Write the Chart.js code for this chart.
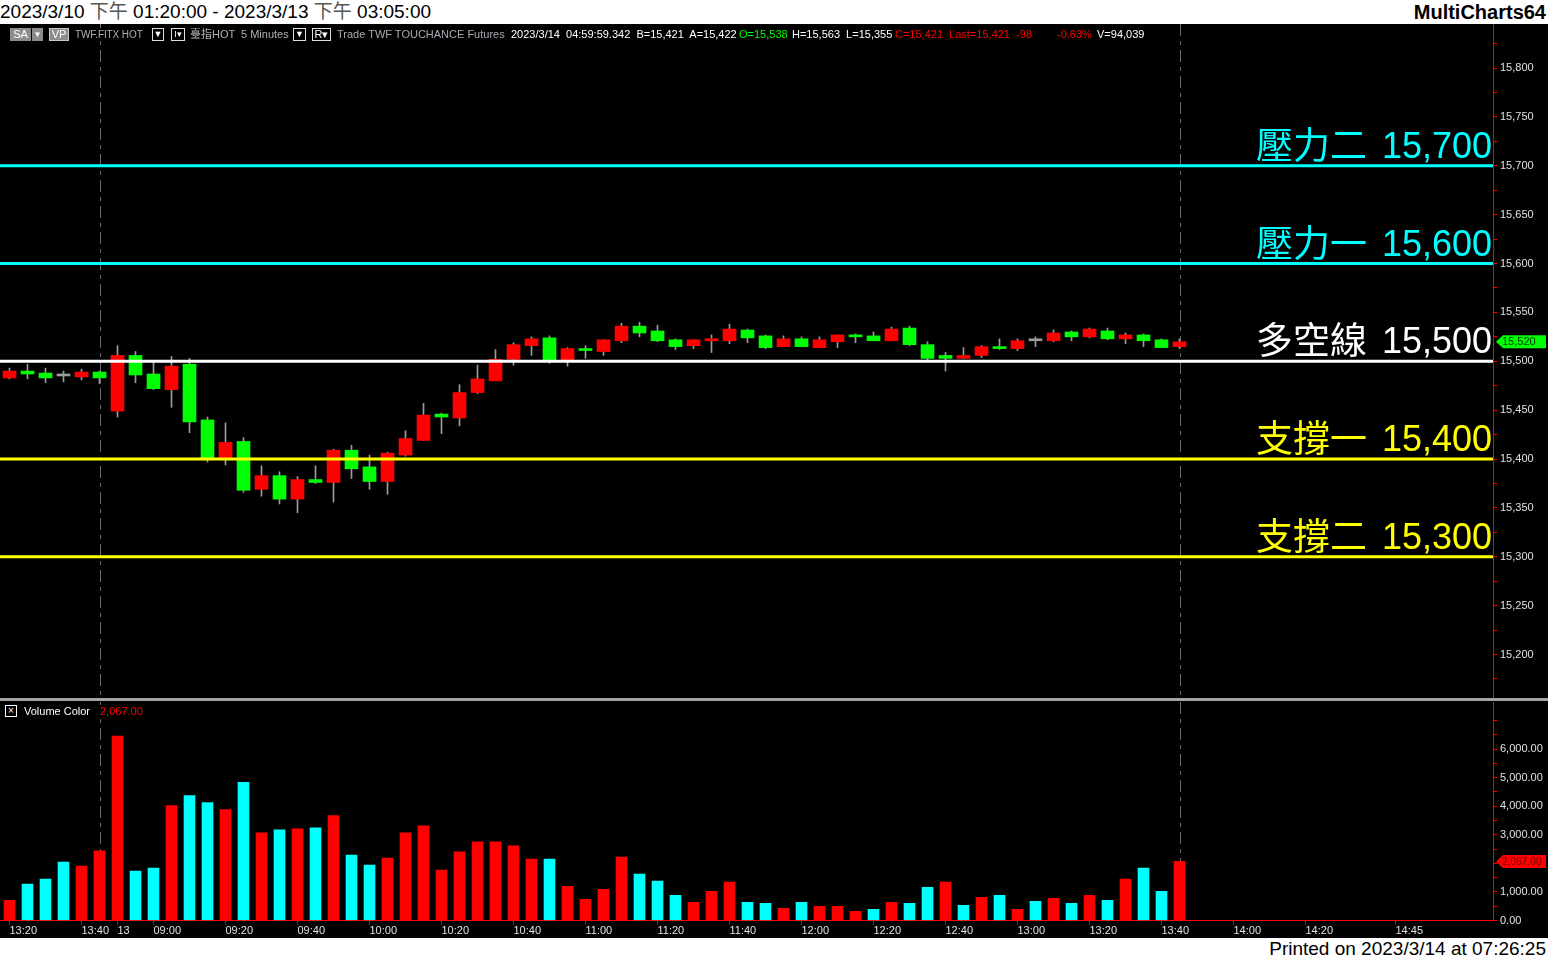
<!DOCTYPE html>
<html>
<head>
<meta charset="utf-8">
<title>TWF.FITX HOT 5 Minutes</title>
<script src="https://cdn.jsdelivr.net/npm/chart.js@4.4.1/dist/chart.umd.min.js"></script>
<style>
  html, body { margin: 0; padding: 0; background: #fff; }
  #wrap { position: relative; width: 1548px; height: 960px; overflow: hidden; background: #fff;
          font-family: "Liberation Sans", Arial, "Noto Sans CJK TC", sans-serif; }
  #title { position: absolute; left: 0; top: 0; height: 24px; line-height: 24px; font-size: 19px; color: #000; white-space: nowrap; }
  #title .cjk { color: #555; }
  #brand { position: absolute; right: 2px; top: 0; height: 24px; line-height: 24px; font-size: 20px; font-weight: bold; color: #000; }
  #black { position: absolute; left: 0; top: 24px; width: 1548px; height: 914px; background: #000; }
  #priceBox { position: absolute; left: 0; top: 24px; width: 1548px; height: 674px; }
  #sep { position: absolute; left: 0; top: 698px; width: 1548px; height: 3px; background: #a4a4a4; }
  #volBox { position: absolute; left: 0; top: 701px; width: 1548px; height: 237px; }
  #footer { position: absolute; right: 2px; top: 938px; height: 22px; line-height: 22px; font-size: 19px; color: #000; white-space: nowrap; }
  .t { position: absolute; top: 28px; height: 13px; line-height: 13px; font-size: 11px; white-space: nowrap; background: #000; }
  .box { box-sizing: border-box; text-align: center; }
  .gray { background: #8c8c8c; color: #fff; }
  .outl { border: 1px solid #e0e0e0; color: #fff; line-height: 11px; font-size: 9px; }
</style>
</head>
<body>
<div id="wrap">
  <div id="title">2023/3/10 <span class="cjk">下午</span> 01:20:00 - 2023/3/13 <span class="cjk">下午</span> 03:05:00</div>
  <div id="brand">MultiCharts64</div>
  <div id="black"></div>
  <div id="priceBox"><canvas id="price" width="1548" height="674"></canvas></div>
  <div id="sep"></div>
  <div id="volBox"><canvas id="vol" width="1548" height="237"></canvas></div>

  <span class="t box gray" style="left:10px;width:21px">SA</span>
  <span class="t box gray" style="left:32px;width:11px;font-size:8px">▼</span>
  <span class="t box gray" style="left:49px;width:20px;border:1px solid #c8c8c8;line-height:11px">VP</span>
  <span class="t" style="left:75px;color:#b0b0b0;font-size:10px;letter-spacing:-0.1px">TWF.FITX HOT</span>
  <span class="t box outl" style="left:152px;width:12px">▼</span>
  <span class="t box outl" style="left:171px;width:14px">I▾</span>
  <span class="t" style="left:190px;color:#b0b0b0">臺指HOT</span>
  <span class="t" style="left:241px;color:#b0b0b0">5 Minutes</span>
  <span class="t box outl" style="left:293px;width:13px">▼</span>
  <span class="t box outl" style="left:312px;width:19px;font-size:11px">R▾</span>
  <span class="t" style="left:337px;color:#a8a8b0">Trade TWF TOUCHANCE Futures</span>
  <span class="t" style="left:511px;color:#fff">2023/3/14&nbsp; 04:59:59.342&nbsp; B=15,421&nbsp; A=15,422</span>
  <span class="t" style="left:739px;color:#00ff00">O=15,538</span>
  <span class="t" style="left:792px;color:#fff">H=15,563&nbsp; L=15,355</span>
  <span class="t" style="left:895px;color:#ff0000">C=15,421&nbsp; Last=15,421&nbsp; -98</span>
  <span class="t" style="left:1057px;color:#ff0000">-0.63%</span>
  <span class="t" style="left:1097px;color:#fff">V=94,039</span>

  <span class="t box" style="top:705px;left:5px;width:12px;height:12px;border:1px solid #fff;color:#fff;line-height:10px;font-size:10px">×</span>
  <span class="t" style="top:705px;left:24px;color:#fff">Volume Color</span>
  <span class="t" id="volHead" style="top:705px;left:100px;color:#ff0000"></span>

  <div id="footer">Printed on 2023/3/14 at 07:26:25</div>
</div>
<script>
// 5-minute bars, 2023/3/10 13:20 .. 2023/3/13 13:45 (index 0..65)
const opens  = [15483,15490,15488,15485,15484,15489,15449,15506,15487,15471,15497,15440,15401,15418,15369,15383,15359,15379,15376,15409,15392,15377,
                15404,15419,15446,15442,15468,15480,15502,15516,15524,15501,15513,15510,15521,15536,15531,15522,15516,15521,15521,15532,15526,15515,
                15523,15514,15520,15527,15526,15521,15534,15517,15506,15503,15506,15515,15513,15521,15521,15530,15525,15531,15523,15527,15522,15515];
const highs  = [15493,15497,15493,15490,15492,15490,15516,15510,15499,15505,15503,15443,15437,15422,15393,15387,15382,15393,15410,15414,15404,15407,
                15429,15457,15447,15476,15496,15512,15519,15525,15526,15514,15516,15522,15539,15540,15537,15523,15522,15527,15538,15533,15527,15526,
                15525,15525,15527,15528,15530,15535,15536,15520,15509,15514,15516,15523,15523,15525,15532,15531,15534,15534,15529,15528,15523,15523];
const lows   = [15482,15482,15478,15479,15481,15477,15443,15478,15471,15453,15427,15397,15394,15366,15362,15354,15345,15375,15356,15380,15369,15364,
                15403,15419,15426,15434,15467,15480,15496,15506,15498,15495,15503,15506,15519,15525,15520,15512,15513,15509,15518,15519,15513,15515,
                15515,15514,15514,15519,15521,15521,15516,15501,15490,15503,15504,15512,15511,15515,15520,15521,15524,15522,15518,15515,15514,15513];
const closes = [15490,15487,15483,15485,15489,15483,15506,15486,15472,15495,15438,15401,15417,15368,15383,15359,15379,15376,15409,15390,15377,15406,
                15421,15445,15443,15468,15482,15502,15517,15523,15501,15513,15511,15522,15536,15529,15521,15515,15522,15522,15533,15524,15514,15523,
                15515,15522,15527,15525,15521,15533,15517,15503,15503,15506,15515,15513,15521,15521,15529,15525,15533,15523,15527,15521,15514,15520];
const volumes = [705,1270,1446,2046,1905,2434,6455,1728,1834,4021,4374,4127,3880,4832,3069,3175,3210,3245,3668,2293,1940,2187,
                 3069,3316,1764,2399,2751,2751,2610,2152,2152,1199,740,1093,2222,1623,1376,882,635,1023,1340,635,600,423,
                 635,494,494,317,388,635,600,1164,1340,529,811,882,388,670,776,600,882,705,1446,1834,1023,2067];
// 1 = red (up) volume bar, 0 = cyan (down)
const volUp = [1,0,0,0,1,1,1,0,0,1,0,0,1,0,1,0,1,0,1,0,0,1,
               1,1,1,1,1,1,1,1,0,1,1,1,1,0,0,0,1,1,1,0,0,1,
               0,1,1,1,0,1,0,0,1,0,1,0,1,0,1,0,1,0,1,0,0,1];

const xTickIdx    = [0, 4, 6, 8, 12, 16, 20, 24, 28, 32, 36, 40, 44, 48, 52, 56, 60, 64, 68, 72, 77];
const xTickLabels = ['13:20','13:40','13','09:00','09:20','09:40','10:00','10:20','10:40','11:00','11:20','11:40',
                     '12:00','12:20','12:40','13:00','13:20','13:40','14:00','14:20','14:45'];
const sessionEnds = [5, 65];

const levels      = [15700, 15600, 15500, 15400, 15300];
const levelNames  = ['壓力二', '壓力一', '多空線', '支撐一', '支撐二'];
const levelColors = ['#00ffff', '#00ffff', '#ffffff', '#ffff00', '#ffff00'];

const priceTicks = [15200, 15250, 15300, 15350, 15400, 15450, 15500, 15550, 15600, 15650, 15700, 15750, 15800];
const volTicks   = [0, 1000, 2000, 3000, 4000, 5000, 6000];

const RED = '#ff0000', GREEN = '#00ff00', CYAN = '#00ffff', WICK = '#9c9c9c';
const X_MIN = -9.5 / 18, X_MAX = 1483.5 / 18;
const AXIS_W = 55;
const fmt = v => Math.round(v).toLocaleString('en-US');
const fmt2 = v => v.toLocaleString('en-US', { minimumFractionDigits: 2, maximumFractionDigits: 2 });
const idx = opens.map((_, i) => i);
const last = idx.length - 1;

document.getElementById('volHead').textContent = fmt2(volumes[last]);

// half-step minor ticks between the labelled ones
function withMinor(list, step) {
  const out = [];
  for (let v = list[0] - step; v <= list[list.length - 1] + step * 2; v += step) out.push({ value: v });
  return out;
}

const sessionLines = {
  id: 'sessionLines',
  beforeDatasetsDraw(chart) {
    const { ctx, chartArea, scales } = chart;
    ctx.save();
    ctx.strokeStyle = '#6a6a6a';
    ctx.lineWidth = 1;
    ctx.setLineDash([12, 5, 4, 5]);
    sessionEnds.forEach(i => {
      const x = Math.round(scales.x.getPixelForValue(i)) + 0.5;
      ctx.beginPath();
      ctx.moveTo(x, chartArea.top);
      ctx.lineTo(x, chartArea.bottom);
      ctx.stroke();
    });
    ctx.restore();
  }
};

const levelLabels = {
  id: 'levelLabels',
  afterDatasetsDraw(chart) {
    const { ctx, chartArea, scales } = chart;
    ctx.save();
    ctx.textAlign = 'right';
    ctx.textBaseline = 'alphabetic';
    levels.forEach((v, k) => {
      const y = scales.y.getPixelForValue(v) - 8;
      const num = fmt(v);
      ctx.fillStyle = levelColors[k];
      ctx.font = '36px "Liberation Sans", Arial, sans-serif';
      const right = chartArea.right - 1;
      ctx.fillText(num, right, y);
      const w = ctx.measureText(num).width;
      ctx.font = '37px "Noto Sans CJK TC", sans-serif';
      ctx.fillText(levelNames[k], right - w - 15, y + 1);
    });
    ctx.restore();
  }
};

function axisMarker(chart, value, text, bg, fg, size) {
  const { ctx, chartArea, scales } = chart;
  const y = scales.y.getPixelForValue(value);
  const x0 = chartArea.right + 3, x1 = chart.width - 2, h = 6.5;
  ctx.save();
  ctx.fillStyle = bg;
  ctx.beginPath();
  ctx.moveTo(x0, y);
  ctx.lineTo(x0 + 7, y - h);
  ctx.lineTo(x1, y - h);
  ctx.lineTo(x1, y + h);
  ctx.lineTo(x0 + 7, y + h);
  ctx.closePath();
  ctx.fill();
  ctx.fillStyle = fg;
  ctx.font = size + 'px "Liberation Sans", Arial, sans-serif';
  ctx.textAlign = 'left';
  ctx.textBaseline = 'middle';
  ctx.fillText(text, x0 + 6, y + 0.5);
  ctx.restore();
}

const priceMarker = {
  id: 'priceMarker',
  afterDraw(chart) { axisMarker(chart, closes[last], fmt(closes[last]), GREEN, '#003300', 11); }
};
const volMarker = {
  id: 'volMarker',
  afterDraw(chart) { axisMarker(chart, volumes[last], fmt2(volumes[last]), RED, '#6a0000', 10.2); }
};

const tickFont = { family: '"Liberation Sans", Arial, sans-serif', size: 11 };

const xHidden = { type: 'linear', min: X_MIN, max: X_MAX, offset: false, display: false, grid: { offset: false } };

new Chart(document.getElementById('price'), {
  type: 'bar',
  data: {
    datasets: [
      ...levels.map((v, k) => ({
        type: 'line',
        data: [{ x: X_MIN, y: v }, { x: X_MAX, y: v }],
        borderColor: levelColors[k],
        borderWidth: 3,
        pointRadius: 0,
        order: 0
      })),
      {
        type: 'bar',
        data: idx.map(i => ({ x: i, y: [opens[i], closes[i]] })),
        backgroundColor: c => closes[c.dataIndex] > opens[c.dataIndex] ? RED
                              : closes[c.dataIndex] < opens[c.dataIndex] ? GREEN : WICK,
        barThickness: 13,
        minBarLength: 2,
        grouped: false,
        order: 1
      },
      {
        type: 'bar',
        data: idx.map(i => ({ x: i, y: [lows[i], highs[i]] })),
        backgroundColor: WICK,
        barThickness: 1,
        grouped: false,
        order: 2
      }
    ]
  },
  options: {
    responsive: false,
    animation: false,
    events: [],
    layout: { padding: 0 },
    plugins: { legend: { display: false }, tooltip: { enabled: false } },
    scales: {
      x: xHidden,
      y: {
        position: 'right',
        min: 15155.5,
        max: 15845.1,
        border: { color: RED, width: 1 },
        grid: { drawOnChartArea: false, tickLength: 4, tickColor: RED },
        ticks: {
          color: '#e0e0e0', font: tickFont, padding: 3, autoSkip: false,
          callback: v => priceTicks.includes(v) ? fmt(v) : ''
        },
        afterBuildTicks: s => { s.ticks = withMinor(priceTicks, 25); },
        afterFit: s => { s.width = AXIS_W; s.paddingTop = 0; s.paddingBottom = 0; }
      }
    }
  },
  plugins: [sessionLines, levelLabels, priceMarker]
});

new Chart(document.getElementById('vol'), {
  type: 'bar',
  data: {
    datasets: [{
      data: idx.map(i => ({ x: i, y: volumes[i] })),
      backgroundColor: c => volUp[c.dataIndex] ? RED : CYAN,
      barThickness: 11,
      grouped: false
    }]
  },
  options: {
    responsive: false,
    animation: false,
    events: [],
    layout: { padding: { top: 1 } },
    plugins: { legend: { display: false }, tooltip: { enabled: false } },
    scales: {
      x: {
        type: 'linear', min: X_MIN, max: X_MAX, offset: false,
        position: 'bottom',
        border: { color: RED, width: 1 },
        grid: { drawOnChartArea: false, offset: false, tickLength: 4, tickColor: RED },
        ticks: {
          color: '#e0e0e0', font: tickFont, padding: 0, align: 'start',
          autoSkip: false, maxRotation: 0,
          callback: (v, i) => xTickLabels[i]
        },
        afterBuildTicks: s => { s.ticks = xTickIdx.map(v => ({ value: v })); },
        afterFit: s => { s.height = 17.5; s.paddingLeft = 0; s.paddingRight = 0; }
      },
      y: {
        position: 'right',
        min: 0,
        max: 7645,
        border: { color: RED, width: 1 },
        grid: { drawOnChartArea: false, tickLength: 4, tickColor: RED },
        ticks: {
          color: '#e0e0e0', font: tickFont, padding: 3, autoSkip: false,
          callback: v => volTicks.includes(v) ? fmt2(v) : ''
        },
        afterBuildTicks: s => { s.ticks = withMinor(volTicks, 500).filter(t => t.value >= 0); },
        afterFit: s => { s.width = AXIS_W; s.paddingTop = 0; s.paddingBottom = 0; }
      }
    }
  },
  plugins: [sessionLines, volMarker]
});
</script>
</body>
</html>
